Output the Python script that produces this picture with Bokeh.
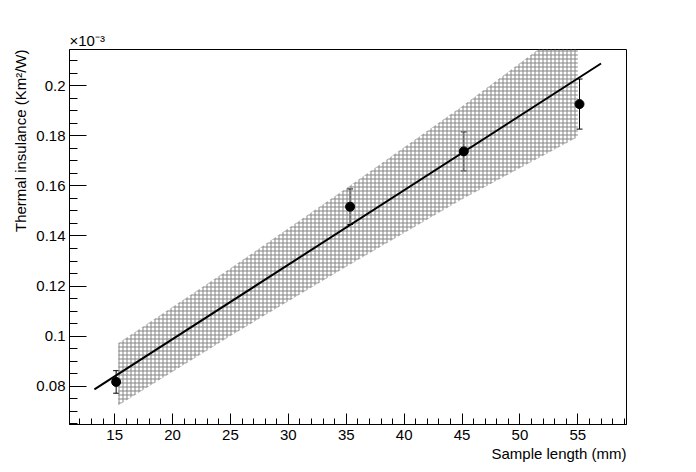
from bokeh.plotting import figure
from bokeh.models import (ColumnDataSource, Range1d, FixedTicker, CustomJSTickFormatter,
                          Whisker, TeeHead, Title)
from bokeh.embed import file_html
from bokeh.resources import INLINE

# ---- data (thermal insulance in units of 1e-3 K m^2 / W) ----
length_mm = [15.13, 35.33, 45.15, 55.14]
insulance = [0.0817, 0.1517, 0.1738, 0.1927]
insulance_err = [0.0045, 0.0071, 0.0078, 0.0100]

fit_x = [13.25, 57.0]
fit_y = [0.0787, 0.2089]

band_x = [15.3, 25.0, 35.0, 45.0, 55.0]
band_hi = [0.0972, 0.1271, 0.1591, 0.1918, 0.2264]
band_lo = [0.0723, 0.1001, 0.1277, 0.1547, 0.1795]

x_ticks = [15, 20, 25, 30, 35, 40, 45, 50, 55]
x_minor = list(range(11, 60))
y_ticks = [0.08, 0.10, 0.12, 0.14, 0.16, 0.18, 0.20]
y_minor = [round(0.065 + 0.005 * i, 3) for i in range(30)]

FONT = "Liberation Sans"

p = figure(width=688, height=466, output_backend="svg", toolbar_location=None,
           x_range=Range1d(11.1, 59.2), y_range=Range1d(0.0647, 0.2145),
           min_border_left=69, min_border_right=62, min_border_top=49, min_border_bottom=42,
           title="×10⁻³")
p.background_fill_color = "white"
p.border_fill_color = "white"
p.outline_line_color = "black"
p.outline_line_width = 1
p.xgrid.visible = False
p.ygrid.visible = False

p.title.text_font = FONT
p.title.text_font_size = "15px"
p.title.text_font_style = "normal"
p.title.text_color = "black"
p.title.align = "left"
p.title.standoff = 2

# band
p.varea(x=band_x, y1=band_lo, y2=band_hi, fill_alpha=0.0,
        hatch_pattern="+", hatch_color="#858585", hatch_scale=4, hatch_weight=1, hatch_alpha=1.0)

# fit line
p.line(fit_x, fit_y, line_color="black", line_width=2)

# data points with error bars
src = ColumnDataSource(dict(x=length_mm, y=insulance,
                            upper=[a + b for a, b in zip(insulance, insulance_err)],
                            lower=[a - b for a, b in zip(insulance, insulance_err)]))
p.add_layout(Whisker(source=src, base="x", upper="upper", lower="lower",
                     line_color="black", line_width=1,
                     upper_head=TeeHead(size=6, line_color="black", line_width=1),
                     lower_head=TeeHead(size=6, line_color="black", line_width=1)))
p.scatter("x", "y", source=src, size=9, marker="circle", fill_color="black", line_color="black")

# axes styling
for ax in (p.xaxis[0], p.yaxis[0]):
    ax.axis_line_color = "black"
    ax.major_tick_line_color = "black"
    ax.minor_tick_line_color = "black"
    ax.major_tick_out = 0
    ax.minor_tick_out = 0
    ax.major_label_text_font = FONT
    ax.major_label_text_font_size = "15px"
    ax.major_label_text_color = "black"

p.xaxis.ticker = FixedTicker(ticks=x_ticks, minor_ticks=x_minor)
p.xaxis.major_tick_in = 11
p.xaxis.minor_tick_in = 6
p.xaxis.major_label_standoff = 5

p.yaxis.ticker = FixedTicker(ticks=y_ticks, minor_ticks=y_minor)
p.yaxis.major_tick_in = 17
p.yaxis.minor_tick_in = 8
p.yaxis.major_label_standoff = 4
p.yaxis.formatter = CustomJSTickFormatter(code="return parseFloat(tick.toFixed(4)).toString();")

# axis titles (right/top aligned like the original)
p.add_layout(Title(text="Sample length (mm)", align="right", standoff=0,
                   text_font=FONT, text_font_size="15px", text_font_style="normal",
                   text_color="black"), "below")
p.add_layout(Title(text="Thermal insulance (Km²/W)", align="right", standoff=9,
                   text_font=FONT, text_font_size="15px", text_font_style="normal",
                   text_color="black"), "left")

open("out.html", "w").write(file_html(p, INLINE))
